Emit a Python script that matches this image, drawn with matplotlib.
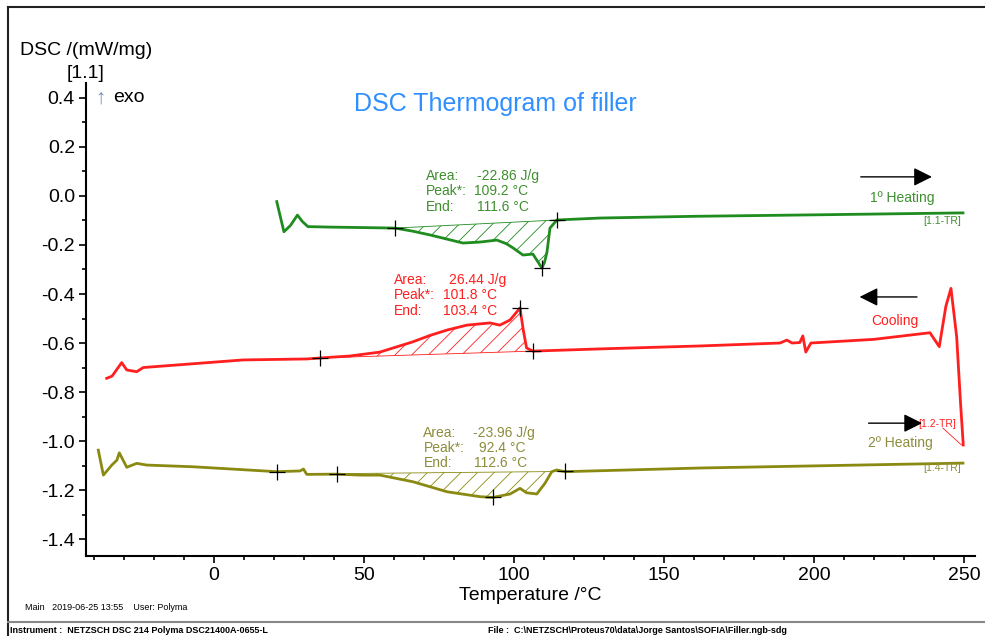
import numpy as np
import matplotlib
matplotlib.use("Agg")
import matplotlib.pyplot as plt
from matplotlib.ticker import MultipleLocator
from matplotlib.lines import Line2D

plt.rcParams['font.family'] = ['Liberation Sans', 'DejaVu Sans']
plt.rcParams['hatch.linewidth'] = 0.6

# 1st heating (green)
heat1_T = [20.9, 23.3, 25.5, 27.8, 29.5, 31.3, 38.7, 50, 60.3, 66, 72, 78, 83, 88.7, 94.3, 97.5, 99.7,
           103, 106.3, 108, 109.3, 110.2, 111, 112, 114.3, 128.7, 160, 200, 249.7]
heat1_dsc = [-0.023, -0.146, -0.12, -0.078, -0.105, -0.125, -0.127, -0.129, -0.131, -0.143, -0.159, -0.177,
             -0.192, -0.188, -0.180, -0.195, -0.212, -0.241, -0.237, -0.269, -0.294, -0.27, -0.229, -0.131,
             -0.098, -0.090, -0.083, -0.077, -0.069]
heat1_marks_T = [60.3, 109.3, 114.3]
heat1_marks_dsc = [-0.131, -0.294, -0.098]

# cooling (red)
cool_T = [-35.8, -34, -30.8, -29.1, -25.8, -23.6, 9.7, 30.9, 35.3, 45.3, 55.3, 66.3, 72, 77.7, 84.3, 92,
          95.3, 98.7, 101, 102, 103.1, 104.2, 106.3, 128.7, 162, 188.7, 191, 192.7, 195.3, 196.3, 197.3,
          199, 220, 238.7, 241.8, 244, 245.7, 247.6, 248.9, 249.8]
cool_dsc = [-0.744, -0.735, -0.68, -0.71, -0.717, -0.70, -0.669, -0.665, -0.661, -0.653, -0.637, -0.595,
            -0.569, -0.547, -0.527, -0.518, -0.527, -0.506, -0.472, -0.457, -0.547, -0.62, -0.633, -0.624,
            -0.612, -0.600, -0.588, -0.600, -0.598, -0.571, -0.637, -0.600, -0.585, -0.558, -0.615, -0.45,
            -0.377, -0.574, -0.846, -1.016]
cool_marks_T = [35.3, 102, 106.3]
cool_marks_dsc = [-0.661, -0.457, -0.633]

# 2nd heating (olive)
heat2_T = [-38.6, -36.9, -34.1, -32.4, -31.6, -29.1, -25.8, -22.4, -6.9, 20.9, 28.7, 29.8, 30.9, 40.9,
           48.7, 55.3, 66.3, 77.7, 88.7, 93, 98.7, 102, 104.2, 107.6, 110.3, 112.6, 114.2, 117, 162, 249.7]
heat2_dsc = [-1.037, -1.139, -1.098, -1.078, -1.048, -1.107, -1.091, -1.098, -1.105, -1.125, -1.122, -1.114,
             -1.136, -1.135, -1.139, -1.139, -1.166, -1.207, -1.227, -1.230, -1.216, -1.193, -1.211, -1.216,
             -1.173, -1.125, -1.118, -1.125, -1.110, -1.090]
heat2_marks_T = [20.9, 40.9, 93, 117]
heat2_marks_dsc = [-1.125, -1.133, -1.230, -1.124]

green = '#1e8c1e'
green_txt = '#3f8f2f'
red = '#ff1f1f'
olive = '#8a8a12'
olive_txt = '#8c8c3c'

fig = plt.figure(figsize=(9.85, 6.36), dpi=100)
ax = fig.add_axes([0.0873, 0.1258, 0.9025, 0.7437])


def draw(T, dsc, mT, mdsc, lo, hi, color):
    T = np.array(T)
    dsc = np.array(dsc)
    ax.plot(T, dsc, color=color, lw=2.0, zorder=3)
    # hatched peak area between the two baseline points
    sel = (T >= mT[lo]) & (T <= mT[hi])
    xs = T[sel]
    ys = dsc[sel]
    base = np.interp(xs, [mT[lo], mT[hi]], [mdsc[lo], mdsc[hi]])
    ax.fill_between(xs, base, ys, facecolor='none', edgecolor=color, hatch='//', lw=0, zorder=2)
    ax.plot([mT[lo], mT[hi]], [mdsc[lo], mdsc[hi]], color=color, lw=0.6, zorder=2)
    ax.plot(mT, mdsc, ls='none', marker='+', ms=11, mew=0.9, color='black', zorder=4)


draw(heat1_T, heat1_dsc, heat1_marks_T, heat1_marks_dsc, 0, 2, green)
draw(cool_T, cool_dsc, cool_marks_T, cool_marks_dsc, 0, 2, red)
draw(heat2_T, heat2_dsc, heat2_marks_T, heat2_marks_dsc, 1, 3, olive)

ax.set_xlim(-42.7, 253.7)
ax.set_ylim(-1.469, 0.461)
for s in ['top', 'right']:
    ax.spines[s].set_visible(False)
for s in ['left', 'bottom']:
    ax.spines[s].set_linewidth(1.5)
ax.xaxis.set_major_locator(MultipleLocator(50))
ax.xaxis.set_minor_locator(MultipleLocator(10))
ax.yaxis.set_major_locator(MultipleLocator(0.2))
ax.yaxis.set_minor_locator(MultipleLocator(0.1))
ax.tick_params(which='major', length=5, width=1.2, labelsize=14, pad=3)
ax.tick_params(which='minor', length=3, width=1.2)
ax.yaxis.set_major_formatter(plt.FuncFormatter(lambda v, p: f"{v:.1f}"))

# peak annotations
def block(x0, x1, ys, vals, color):
    labels = ["Area:", "Peak*:", "End:"]
    for i in range(3):
        ax.text(x0, ys[i], labels[i], color=color, fontsize=10, va='center', ha='left')
        ax.text(x1[i], ys[i], vals[i], color=color, fontsize=10, va='center', ha='left')

block(70.6, [87.6, 86.7, 87.6], [0.083, 0.020, -0.044],
      ["-22.86 J/g", "109.2 °C", "111.6 °C"], green_txt)
block(60.0, [78.3, 76.2, 76.2], [-0.343, -0.404, -0.468],
      ["26.44 J/g", "101.8 °C", "103.4 °C"], red)
block(69.8, [86.4, 88.3, 86.8], [-0.969, -1.027, -1.089],
      ["-23.96 J/g", "92.4 °C", "112.6 °C"], olive_txt)

# segment arrows and labels
arw = dict(arrowstyle='-|>', color='black', lw=1.0, mutation_scale=28)
ax.annotate('', xy=(240.3, 0.078), xytext=(214.7, 0.078), arrowprops=arw, annotation_clip=False)
ax.annotate('', xy=(214.3, -0.412), xytext=(235.3, -0.412), arrowprops=arw, annotation_clip=False)
ax.text(241.0, -0.931, "[1.2-TR]", color=red, fontsize=7.5, ha='center', va='center', zorder=1)
ax.annotate('', xy=(237.0, -0.927), xytext=(217.3, -0.927), arrowprops=arw, annotation_clip=False)
ax.plot([243, 249.2], [-0.947, -1.016], color=red, lw=0.6)
ax.text(229.3, -0.008, "1º Heating", color=green_txt, fontsize=10, ha='center', va='center')
ax.text(227.0, -0.51, "Cooling", color=red, fontsize=10, ha='center', va='center')
ax.text(228.7, -1.008, "2º Heating", color=olive_txt, fontsize=10, ha='center', va='center')
ax.text(242.7, -0.102, "[1.1-TR]", color=green_txt, fontsize=7.5, ha='center', va='center')
ax.text(242.7, -1.11, "[1.4-TR]", color=olive_txt, fontsize=7.5, ha='center', va='center')

ax.text(93.7, 0.376, "DSC Thermogram of filler", color='#2f8fff', fontsize=18, ha='center', va='center')
ax.text(-37.8, 0.40, "↑", color='#7a93b5', fontsize=15, ha='center', va='center')
ax.text(-33.8, 0.40, "exo", color='black', fontsize=14, ha='left', va='center')

fig.text(0.0203, 0.921, "DSC /(mW/mg)", fontsize=14, ha='left', va='center')
fig.text(0.0873, 0.885, "[1.1]", fontsize=14, ha='center', va='center')
fig.text(0.538, 0.063, "Temperature /°C", fontsize=14, ha='center', va='center')
fig.text(0.025, 0.045, "Main   2019-06-25 13:55    User: Polyma", fontsize=6.5, ha='left', va='center')
fig.text(0.010, 0.009, "Instrument :  NETZSCH DSC 214 Polyma DSC21400A-0655-L", fontsize=6.5,
         fontweight='bold', ha='left', va='center')
fig.text(0.495, 0.009, "File :  C:\\NETZSCH\\Proteus70\\data\\Jorge Santos\\SOFIA\\Filler.ngb-sdg",
         fontsize=6.5, fontweight='bold', ha='left', va='center')

# page frame
fig.add_artist(Line2D([8 / 985, 1], [1 - 7 / 636, 1 - 7 / 636], color='#222222', lw=1.5))
fig.add_artist(Line2D([8 / 985, 8 / 985], [0, 1 - 7 / 636], color='#222222', lw=1.5))
fig.add_artist(Line2D([8 / 985, 1], [1 - 622 / 636, 1 - 622 / 636], color='#888888', lw=1.5))

fig.savefig("out.png", dpi=100)
